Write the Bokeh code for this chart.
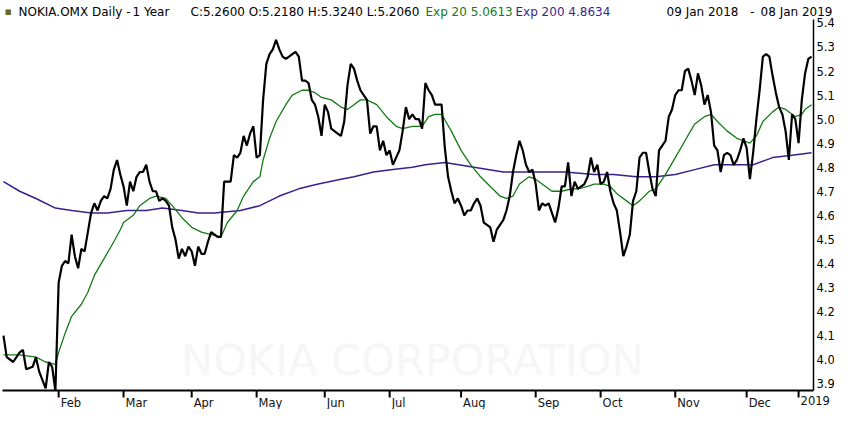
from bokeh.plotting import figure
from bokeh.models import Range1d, Label
from bokeh.core.properties import value
from bokeh.embed import file_html
from bokeh.resources import INLINE

# ---- data (trading-session index 0 = 09 Jan 2018 ... 249 = 08 Jan 2019) ----
close_day = [0, 1, 3, 5, 6, 7, 9, 10, 11, 13, 14, 15, 16, 17, 18, 19, 20, 21, 22, 23, 24, 25, 26, 27, 28, 29,
             30, 31, 32, 33, 34, 35, 36, 37, 38, 39, 40, 41, 42, 43, 44, 45, 46, 47, 48, 49, 50, 51, 52, 53,
             54, 55, 56, 57, 58, 59, 60, 61, 62, 63, 64, 66, 67, 68, 70, 71, 72, 73, 74, 75, 76, 77, 78, 79,
             80, 81, 82, 83, 84, 85, 86, 87, 88, 89, 90, 91, 92, 93, 94, 95, 96, 97, 98, 99, 100, 101, 102,
             103, 104, 105, 106, 107, 108, 109, 110, 111, 112, 113, 114, 115, 116, 117, 118, 119, 120, 122,
             123, 124, 125, 126, 127, 128, 129, 130, 131, 132, 133, 134, 135, 136, 137, 138, 139, 140, 141,
             142, 143, 144, 145, 146, 147, 148, 149, 150, 151, 152, 153, 154, 155, 156, 157, 158, 159, 160,
             161, 162, 163, 164, 165, 166, 167, 168, 169, 170, 171, 172, 173, 174, 175, 176, 177, 178, 179,
             180, 181, 182, 183, 184, 185, 186, 187, 188, 189, 190, 191, 192, 193, 194, 195, 196, 197, 198,
             199, 200, 201, 202, 203, 204, 205, 206, 207, 208, 209, 210, 211, 212, 213, 214, 215, 216, 217,
             218, 219, 220, 221, 222, 223, 224, 225, 226, 227, 228, 229, 230, 231, 232, 233, 234, 235, 236,
             237, 238, 239, 240, 241, 242, 243, 244, 245, 246, 247, 248, 249]
close_val = [4.10, 4.01, 3.99, 4.03, 4.04, 3.96, 3.97, 4.01, 3.95, 3.88, 3.99, 3.97, 3.87, 4.32, 4.39, 4.41,
             4.40, 4.52, 4.43, 4.38, 4.46, 4.45, 4.53, 4.61, 4.65, 4.62, 4.66, 4.68, 4.67, 4.71, 4.79, 4.83,
             4.77, 4.72, 4.64, 4.74, 4.70, 4.76, 4.78, 4.78, 4.81, 4.74, 4.70, 4.70, 4.66, 4.67, 4.66, 4.64,
             4.55, 4.50, 4.42, 4.46, 4.43, 4.47, 4.45, 4.39, 4.47, 4.44, 4.44, 4.49, 4.53, 4.51, 4.51, 4.74,
             4.74, 4.85, 4.84, 4.86, 4.93, 4.89, 4.94, 4.97, 4.84, 4.85, 5.08, 5.23, 5.27, 5.29, 5.33, 5.29,
             5.26, 5.25, 5.26, 5.27, 5.28, 5.26, 5.16, 5.16, 5.15, 5.08, 5.06, 5.01, 4.93, 5.06, 5.03, 4.96,
             4.95, 4.94, 4.93, 4.99, 5.14, 5.23, 5.21, 5.16, 5.12, 5.10, 5.08, 4.94, 4.97, 4.97, 4.87, 4.91,
             4.85, 4.87, 4.81, 4.87, 4.95, 5.05, 5.00, 5.02, 5.00, 5.00, 4.96, 5.15, 5.12, 5.10, 5.06, 5.06,
             5.06, 4.88, 4.76, 4.70, 4.65, 4.67, 4.64, 4.60, 4.62, 4.62, 4.65, 4.67, 4.64, 4.57, 4.56, 4.55,
             4.49, 4.54, 4.56, 4.58, 4.62, 4.68, 4.78, 4.85, 4.91, 4.87, 4.81, 4.78, 4.79, 4.73, 4.62, 4.65,
             4.64, 4.65, 4.61, 4.57, 4.63, 4.72, 4.72, 4.82, 4.68, 4.74, 4.71, 4.72, 4.73, 4.76, 4.84, 4.78,
             4.81, 4.73, 4.74, 4.78, 4.70, 4.65, 4.62, 4.53, 4.43, 4.47, 4.52, 4.66, 4.70, 4.84, 4.86, 4.86,
             4.78, 4.71, 4.68, 4.87, 4.89, 4.91, 5.01, 5.04, 5.10, 5.12, 5.12, 5.20, 5.21, 5.16, 5.10, 5.19,
             5.14, 5.06, 5.10, 5.03, 4.89, 4.87, 4.78, 4.85, 4.86, 4.85, 4.81, 4.83, 4.87, 4.92, 4.88, 4.75,
             4.86, 5.00, 5.12, 5.26, 5.27, 5.26, 5.18, 5.11, 5.05, 5.02, 4.95, 4.83, 5.02, 5.00, 4.90, 5.08,
             5.19, 5.25, 5.26]

ema20_day = [0, 5, 10, 13, 16, 17, 19, 21, 24, 26, 28, 31, 34, 36, 37, 40, 42, 45, 47, 50, 52, 55, 58, 61,
             64, 67, 69, 72, 74, 77, 79, 80, 82, 84, 87, 89, 92, 94, 96, 98, 101, 104, 106, 108, 110, 112,
             115, 118, 121, 123, 126, 129, 131, 133, 135, 138, 141, 144, 147, 150, 153, 155, 157, 159, 162,
             164, 167, 169, 172, 175, 177, 180, 182, 185, 187, 189, 192, 194, 196, 199, 201, 204, 207, 210,
             213, 216, 218, 220, 223, 226, 228, 230, 232, 234, 237, 239, 241, 243, 244, 246, 247, 248, 249]
ema20_val = [4.02, 4.02, 4.01, 3.99, 3.98, 4.03, 4.11, 4.18, 4.23, 4.28, 4.35, 4.42, 4.49, 4.54, 4.57, 4.60,
             4.64, 4.67, 4.68, 4.67, 4.64, 4.59, 4.55, 4.53, 4.52, 4.51, 4.57, 4.62, 4.68, 4.74, 4.76, 4.83,
             4.92, 4.99, 5.06, 5.10, 5.12, 5.12, 5.11, 5.09, 5.08, 5.05, 5.04, 5.06, 5.08, 5.08, 5.06, 5.01,
             4.97, 4.96, 4.97, 4.97, 5.01, 5.02, 5.02, 4.95, 4.87, 4.81, 4.76, 4.72, 4.68, 4.67, 4.68, 4.73,
             4.76, 4.75, 4.72, 4.70, 4.70, 4.71, 4.71, 4.72, 4.73, 4.73, 4.72, 4.69, 4.66, 4.64, 4.66, 4.70,
             4.71, 4.77, 4.84, 4.91, 4.98, 5.01, 5.02, 4.99, 4.95, 4.92, 4.91, 4.90, 4.93, 4.99, 5.03, 5.05,
             5.04, 5.02, 5.01, 5.02, 5.04, 5.05, 5.06]

ema200_day = [0, 5, 10, 16, 21, 27, 32, 38, 44, 49, 55, 60, 65, 73, 79, 85, 91, 97, 104, 108, 114, 120, 126,
              130, 136, 145, 154, 163, 173, 182, 188, 195, 201, 207, 213, 219, 225, 231, 237, 243, 249]
ema200_val = [4.74, 4.70, 4.67, 4.63, 4.62, 4.61, 4.61, 4.62, 4.62, 4.63, 4.62, 4.61, 4.61, 4.62, 4.64, 4.68,
              4.71, 4.73, 4.75, 4.76, 4.78, 4.79, 4.80, 4.81, 4.82, 4.80, 4.78, 4.78, 4.78, 4.77, 4.77, 4.76,
              4.76, 4.77, 4.79, 4.81, 4.81, 4.81, 4.84, 4.85, 4.86]

month_ticks = [17, 37, 58, 78, 99, 119, 141, 164, 184, 207, 229, 245]
month_labels = ["Feb", "Mar", "Apr", "May", "Jun", "Jul", "Aug", "Sep", "Oct", "Nov", "Dec", "2019"]
price_ticks = [3.9, 4.0, 4.1, 4.2, 4.3, 4.4, 4.5, 4.6, 4.7, 4.8, 4.9, 5.0, 5.1, 5.2, 5.3, 5.4]
price_labels = ["3.9", "4.0", "4.1", "4.2", "4.3", "4.4", "4.5", "4.6", "4.7", "4.8", "4.9",
                "5.0", "5.1", "5.2", "5.3", "5.4"]

FONT = "DejaVu Sans"
GREEN = "#157a15"
PURPLE = "#3b1f8f"

# ---- layout geometry (pixels) ----
W, H = 834, 409
PLOT_L, PLOT_R = 2, 813         # plot-area edges inside the canvas
PLOT_T, PLOT_B = 20, 390
X0, X1 = -0.3, 249.6           # session range spanning the plot area
Y0, Y1 = 3.8715, 5.41          # price range spanning the plot area
kx = (PLOT_R - PLOT_L) / (X1 - X0)
ky = (PLOT_B - PLOT_T) / (Y1 - Y0)

p = figure(width=W, height=H, output_backend="svg", toolbar_location=None,
           x_range=Range1d(X0 - PLOT_L / kx, X1 + (W - PLOT_R) / kx),
           y_range=Range1d(Y0 - (H - PLOT_B) / ky, Y1 + PLOT_T / ky),
           x_axis_location=None, y_axis_location=None, min_border=0,
           outline_line_color=None, background_fill_color="white", border_fill_color="white")
p.xgrid.visible = False
p.ygrid.visible = False

# watermark
p.add_layout(Label(x=126.0, y=4.0, text="NOKIA CORPORATION", text_align="center", text_baseline="middle",
                   text_font=FONT, text_font_size="43px", text_color="#f6f6f6", level="underlay"))

# series
p.line(ema200_day, ema200_val, line_color=PURPLE, line_width=1.5)
p.line(ema20_day, ema20_val, line_color=GREEN, line_width=1.3)
p.line(close_day, close_val, line_color="black", line_width=2.2)

# price axis at the right edge of the plot area
p.segment(x0=[X1], y0=[Y0], x1=[X1], y1=[Y1 + 1 / ky], line_color="black", line_width=1.5)
p.text(x=[X1] * len(price_ticks), y=price_ticks, text=price_labels, x_offset=3,
       text_align="left", text_baseline="middle", text_font=value(FONT),
       text_font_size="11.5px", text_color="black")

# time axis along the bottom
p.segment(x0=[X0], y0=[Y0], x1=[X1], y1=[Y0], line_color="black", line_width=2)
p.segment(x0=month_ticks, y0=[Y0] * len(month_ticks), x1=month_ticks,
          y1=[Y0 - 7 / ky] * len(month_ticks), line_color="black", line_width=2)
p.text(x=month_ticks, y=[Y0 - 5.5 / ky] * len(month_ticks), text=month_labels, x_offset=2,
       text_align="left", text_baseline="top", text_font=value(FONT),
       text_font_size="11.5px", text_color="#111111")

# header line
HY = H - 11
def htxt(x, txt, color="black", align="left", size="12px"):
    p.add_layout(Label(x=x, y=HY, x_units="screen", y_units="screen", text=txt, text_align=align,
                       text_baseline="middle", text_font=FONT, text_font_size=size, text_color=color))

htxt(4, "\u25aa", "#6b6b20", size="11px")
htxt(18, "NOKIA.OMX Daily -")
htxt(132, "1 Year")
htxt(190, "C:5.2600 O:5.2180 H:5.3240 L:5.2060")
htxt(425, "Exp 20 5.0613", GREEN)
htxt(515, "Exp 200 4.8634", PURPLE)
htxt(738, "09 Jan 2018", align="right")
htxt(752, "-", align="center")
htxt(832, "08 Jan 2019", align="right")

open("out.html", "w").write(file_html(p, INLINE))
